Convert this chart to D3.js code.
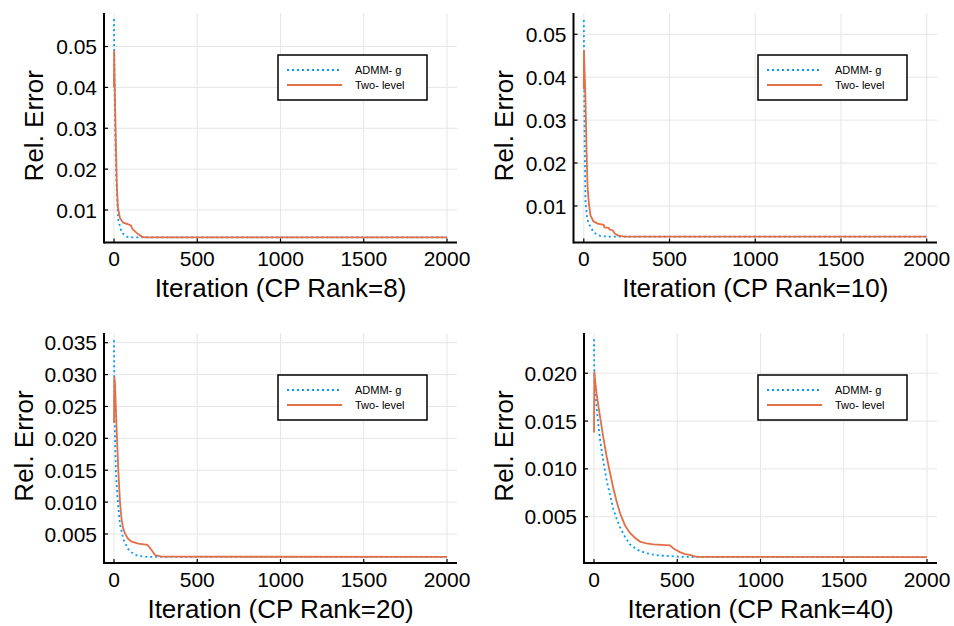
<!DOCTYPE html>
<html>
<head>
<meta charset="utf-8">
<script src="https://cdn.jsdelivr.net/npm/d3@7"></script>
<style>
  body { margin: 0; background: #fff; }
  svg { display: block; font-family: "Liberation Sans", Arial, sans-serif; }
</style>
</head>
<body>
<div id="chart"></div>
<script>
// ---- data: [iteration, rel. error] ----
const seriesNames = ["ADMM- g", "Two- level"];
const xTicks = [0, 500, 1000, 1500, 2000];
const xLabels = ["Iteration (CP Rank=8)", "Iteration (CP Rank=10)", "Iteration (CP Rank=20)", "Iteration (CP Rank=40)"];

const admm8 = [[0,0.0567],[2,0.045],[6,0.033],[12,0.020],[20,0.0115],[26,0.0075],[46,0.0045],[76,0.0035],[110,0.0033],[2000,0.0033]];
const twoLevel8 = [[0,0.040],[1,0.049],[6,0.037],[12,0.025],[18,0.015],[24,0.0105],[36,0.0080],[56,0.0069],[86,0.0065],[102,0.0062],[110,0.0054],[136,0.0044],[166,0.0035],[186,0.0033],[2000,0.0033]];

const admm10 = [[0,0.0533],[2,0.040],[5,0.025],[10,0.0110],[20,0.0070],[30,0.0058],[58,0.0038],[97,0.0030],[150,0.00284],[2000,0.00284]];
const twoLevel10 = [[0,0.0372],[1,0.0462],[10,0.0347],[16,0.023],[22,0.0145],[30,0.0105],[39,0.0078],[55,0.0065],[80,0.0059],[116,0.0056],[120,0.0050],[145,0.0049],[150,0.0045],[170,0.0043],[180,0.0036],[200,0.0031],[240,0.00284],[2000,0.00284]];

const admm20 = [[0,0.0354],[3,0.026],[6,0.020],[12,0.0145],[22,0.0103],[36,0.0065],[56,0.0042],[86,0.0026],[116,0.0019],[146,0.00155],[200,0.00142],[2000,0.00142]];
const twoLevel20 = [[0,0.0224],[2,0.0297],[6,0.0285],[16,0.0213],[26,0.0150],[36,0.0100],[46,0.0072],[56,0.0058],[66,0.0051],[86,0.0042],[106,0.0038],[146,0.0035],[200,0.0033],[210,0.0030],[226,0.0025],[246,0.0017],[286,0.00144],[2000,0.00142]];

const admm40 = [[0,0.02356],[2,0.0205],[6,0.0185],[16,0.0163],[36,0.0131],[56,0.0108],[76,0.0088],[96,0.0073],[116,0.0058],[136,0.0048],[156,0.0039],[186,0.0029],[216,0.0021],[266,0.0015],[316,0.00118],[366,0.00100],[416,0.00092],[516,0.00082],[600,0.00078],[2000,0.00078]];
const twoLevel40 = [[0,0.0138],[2,0.0202],[6,0.0193],[16,0.0178],[36,0.0155],[56,0.0133],[76,0.0113],[96,0.0096],[116,0.0080],[136,0.0066],[156,0.0054],[186,0.0041],[216,0.0033],[246,0.0028],[276,0.0024],[316,0.0022],[356,0.0021],[456,0.0020],[476,0.0017],[496,0.0015],[516,0.0013],[546,0.0011],[576,0.0010],[616,0.00080],[2000,0.00078]];

const yTicks8 = [0.01, 0.02, 0.03, 0.04, 0.05];
const yTicks20 = [0.005, 0.010, 0.015, 0.020, 0.025, 0.030, 0.035];
const yTicks40 = [0.005, 0.010, 0.015, 0.020];

// ---- layout ----
const W = 954, H = 626;
const colors = ["#009AFA", "#E26F46"];

const panels = [
  { box: [104, 13, 457, 242.5], ydom: [0.00205, 0.0582], yticks: yTicks8, fmt: ".2f", yoff: 61, data: [admm8, twoLevel8], xlabel: xLabels[0] },
  { box: [573.5, 13, 937, 242.5], ydom: [0.00149, 0.05496], yticks: yTicks8, fmt: ".2f", yoff: 61, data: [admm10, twoLevel10], xlabel: xLabels[1] },
  { box: [104, 333, 457, 563], ydom: [0.00045, 0.03652], yticks: yTicks20, fmt: ".3f", yoff: 71, data: [admm20, twoLevel20], xlabel: xLabels[2] },
  { box: [584, 333, 937, 563], ydom: [0.00016, 0.02421], yticks: yTicks40, fmt: ".3f", yoff: 71, data: [admm40, twoLevel40], xlabel: xLabels[3] }
];

const svg = d3.select("#chart").append("svg").attr("width", W).attr("height", H);

panels.forEach(p => draw_panel(p));

function draw_panel(p) {
  const [l, t, r, b] = p.box;
  const x = d3.scaleLinear().domain([-60, 2060]).range([l, r]);
  const y = d3.scaleLinear().domain(p.ydom).range([b, t]);
  const g = svg.append("g");

  // grid
  g.selectAll("line.gx").data(xTicks).enter().append("line")
    .attr("x1", d => x(d)).attr("x2", d => x(d)).attr("y1", t).attr("y2", b)
    .attr("stroke", "#e6e6e6").attr("stroke-width", 1);
  g.selectAll("line.gy").data(p.yticks).enter().append("line")
    .attr("x1", l).attr("x2", r).attr("y1", d => y(d)).attr("y2", d => y(d))
    .attr("stroke", "#e6e6e6").attr("stroke-width", 1);

  // series
  const line = d3.line().x(d => x(d[0])).y(d => y(d[1]));
  p.data.forEach((s, i) => {
    g.append("path").datum(s).attr("d", line)
      .attr("fill", "none").attr("stroke", colors[i])
      .attr("stroke-width", 1.8)
      .attr("stroke-dasharray", i === 0 ? "2,3" : null);
  });

  // axes (left + bottom, inward ticks)
  g.append("line").attr("x1", l).attr("x2", r).attr("y1", b).attr("y2", b)
    .attr("stroke", "#000").attr("stroke-width", 2);
  g.append("line").attr("x1", l).attr("x2", l).attr("y1", t).attr("y2", b + 1)
    .attr("stroke", "#000").attr("stroke-width", 2);

  g.selectAll("line.tx").data(xTicks).enter().append("line")
    .attr("x1", d => x(d)).attr("x2", d => x(d)).attr("y1", b).attr("y2", b - 4)
    .attr("stroke", "#000").attr("stroke-width", 1.2);
  g.selectAll("line.ty").data(p.yticks).enter().append("line")
    .attr("x1", l).attr("x2", l + 4).attr("y1", d => y(d)).attr("y2", d => y(d))
    .attr("stroke", "#000").attr("stroke-width", 1.2);

  g.selectAll("text.tx").data(xTicks).enter().append("text")
    .attr("x", d => x(d)).attr("y", b + 23.5)
    .attr("text-anchor", "middle").attr("font-size", "21px").text(d => d);
  const f = d3.format(p.fmt);
  g.selectAll("text.ty").data(p.yticks).enter().append("text")
    .attr("x", l - 7).attr("y", d => y(d)).attr("dy", "0.36em")
    .attr("text-anchor", "end").attr("font-size", "21px").text(d => f(d));

  // axis labels
  g.append("text").attr("x", (l + r) / 2).attr("y", b + 54.5)
    .attr("text-anchor", "middle").attr("font-size", "26px").text(p.xlabel);
  const lx = l - p.yoff;
  g.append("text").attr("transform", `translate(${lx},${(t + b) / 2 - 2}) rotate(-90)`)
    .attr("text-anchor", "middle").attr("font-size", "26px").text("Rel. Error");

  // legend
  const lw = 149, lh = 45;
  const lgx = r - 30 - lw, lgy = t + 42;
  const lg = g.append("g").attr("transform", `translate(${lgx},${lgy})`);
  lg.append("rect").attr("width", lw).attr("height", lh)
    .attr("fill", "#fff").attr("stroke", "#000").attr("stroke-width", 1.5);
  seriesNames.forEach((n, i) => {
    const yy = 15 + i * 15;
    lg.append("line").attr("x1", 9).attr("x2", 64).attr("y1", yy).attr("y2", yy)
      .attr("stroke", colors[i]).attr("stroke-width", 1.8)
      .attr("stroke-dasharray", i === 0 ? "2,3" : null);
    lg.append("text").attr("x", 77).attr("y", yy).attr("dy", "0.36em")
      .attr("font-size", "11px").text(n);
  });
}
</script>
</body>
</html>
